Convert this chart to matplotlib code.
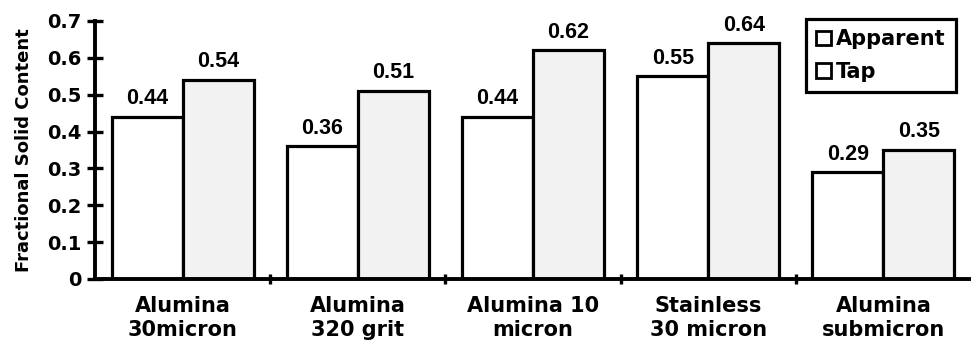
import matplotlib
matplotlib.use("Agg")
import matplotlib.pyplot as plt
import numpy as np

categories = ["Alumina\n30micron", "Alumina\n320 grit", "Alumina 10\nmicron", "Stainless\n30 micron", "Alumina\nsubmicron"]
apparent = [0.44, 0.36, 0.44, 0.55, 0.29]
tap = [0.54, 0.51, 0.62, 0.64, 0.35]
yticks = [0, 0.1, 0.2, 0.3, 0.4, 0.5, 0.6, 0.7]
ytick_labels = ["0", "0.1", "0.2", "0.3", "0.4", "0.5", "0.6", "0.7"]

plt.rcParams['font.family'] = ['DejaVu Sans']
plt.rcParams['font.weight'] = 'bold'

fig = plt.figure(figsize=(9.71, 3.5), dpi=100)
ax = fig.add_axes([0.098, 0.203, 0.902, 0.737])

x = np.arange(len(categories))
w = 0.405
lw = 2.3
ax.bar(x - w/2, apparent, w, facecolor='white', edgecolor='black', linewidth=lw, label='Apparent')
ax.bar(x + w/2, tap, w, facecolor='#f2f2f2', edgecolor='black', linewidth=lw, label='Tap')

numfont = dict(family='Liberation Sans', fontsize=15.5, fontweight='bold')
for xi, v in zip(x - w/2, apparent):
    ax.text(xi, v + 0.034, f"{v:.2f}", ha='center', va='baseline', **numfont)
for xi, v in zip(x + w/2, tap):
    ax.text(xi, v + 0.034, f"{v:.2f}", ha='center', va='baseline', **numfont)

ax.set_xlim(-0.5, len(categories) - 0.5)
ax.set_ylim(0, 0.7)
ax.set_yticks(yticks)
ax.set_yticklabels(ytick_labels, fontsize=14, fontweight='bold')
ax.set_xticks(x)
ax.set_xticklabels(categories, fontsize=15, fontweight='bold', linespacing=1.3)
ax.tick_params(axis='x', length=0, pad=12)
ax.set_xticks(np.arange(0.5, len(categories) - 0.5, 1), minor=True)
ax.tick_params(axis='x', which='minor', direction='inout', length=7, width=2.4)
ax.tick_params(axis='y', direction='inout', length=12, width=2.4, pad=4)
ax.set_ylabel("Fractional Solid Content", fontsize=13, fontweight='bold', labelpad=10)

for s in ['top', 'right']:
    ax.spines[s].set_visible(False)
for s in ['left', 'bottom']:
    ax.spines[s].set_linewidth(2.8)

leg = ax.legend(loc='upper right', bbox_to_anchor=(0.988, 1.025), fontsize=15, frameon=True,
                fancybox=False, edgecolor='black', framealpha=1, handlelength=0.7, handleheight=0.7,
                handletextpad=0.25, borderpad=0.5, labelspacing=0.6, borderaxespad=0.2)
leg.get_frame().set_linewidth(2.3)
for h in leg.legend_handles:
    h.set_facecolor('white')
    h.set_linewidth(2.0)

fig.savefig("out.png", dpi=100)
